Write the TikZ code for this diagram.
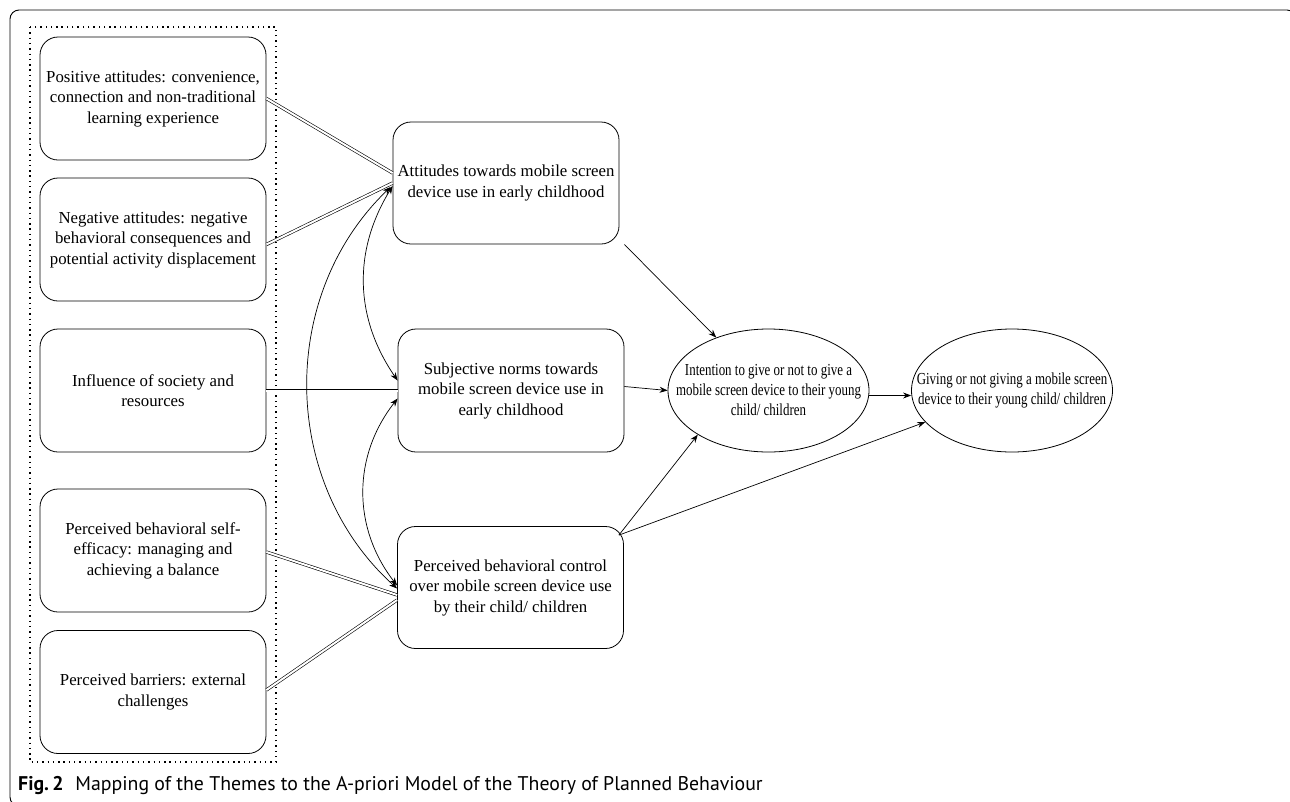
\documentclass[tikz,border=0pt]{standalone}
\usepackage{fontspec}
\setmainfont{Liberation Serif}
\newfontfamily\capfont{PT Sans}
\newfontfamily\condserif[FakeStretch=0.77]{Liberation Serif}
\usetikzlibrary{arrows.meta,shapes.geometric}
\begin{document}
\begin{tikzpicture}[x=1pt,y=-1pt,
  every node/.style={font=\fontsize{16.8}{20.5}\selectfont, align=center},
  themebox/.style={draw, rounded corners=18pt, minimum width=226pt, minimum height=123pt, inner sep=0pt, line width=0.8pt},
  constbox/.style={draw, rounded corners=18pt, minimum width=226pt, minimum height=122pt, inner sep=0pt, line width=0.8pt},
  oval/.style={draw, ellipse, minimum width=201pt, minimum height=123pt, inner sep=0pt, line width=0.8pt},
  ovaltext/.style={inner sep=0pt, font=\condserif\fontsize{16.8}{20}\selectfont},
  dbl/.style={double, double distance=2pt, line width=0.6pt},
  arr/.style={-{Stealth[length=8pt,width=6pt]}, line width=0.7pt},
  biarr/.style={{Stealth[length=8pt,width=6pt]}-{Stealth[length=8pt,width=6pt]}, line width=0.7pt},
]
\useasboundingbox (0,0) rectangle (1290,801);
\begin{scope}
\clip (0,0) rectangle (1290,801);
\draw[line width=0.9pt, rounded corners=9pt] (10,10) rectangle (1296,806);
\end{scope}
\draw[line width=1.2pt, dash pattern=on 1.4pt off 3.9pt] (30,27) rectangle (276,762);

% theme boxes
\node[themebox] (b1) at (153,98.5) {Positive attitudes: convenience,\\connection and non-traditional\\learning experience};
\node[themebox] (b2) at (153,239.5) {Negative attitudes: negative\\behavioral consequences and\\potential activity displacement};
\node[themebox] (b3) at (153,390.5) {Influence of society and\\resources};
\node[themebox] (b4) at (153,550.5) {Perceived behavioral self-\\efficacy: managing and\\achieving a balance};
\node[themebox] (b5) at (153,692) {Perceived barriers: external\\challenges};

% constructs
\node[constbox] (att) at (506,183) {Attitudes towards mobile screen\\device use in early childhood};
\node[themebox] (sub) at (511,390.5) {Subjective norms towards\\mobile screen device use in\\early childhood};
\node[constbox] (pbc) at (510.5,587.5) {Perceived behavioral control\\over mobile screen device use\\by their child/ children};

\node[oval] (int) at (768.5,390.5) {};
\node[ovaltext] (intt) at (int) {Intention to give or not to give a\\mobile screen device to their young\\child/ children};
\node[oval] (giv) at (1012,390.5) {};
\node[ovaltext] (givt) at (giv) {Giving or not giving a mobile screen\\device to their young child/ children};

% double connectors
\draw[dbl] (b1.east) -- ([yshift=10pt]att.west);
\draw[dbl] ([yshift=-5pt]b2.east) -- (att.west);
\draw[dbl] (b3.east) -- (sub.west);
\draw[dbl] ([yshift=-1.5pt]b4.east) -- ([yshift=-7.5pt]pbc.west);
\draw[dbl] ([yshift=2pt]b5.east) -- ([yshift=-12.5pt]pbc.west);

% correlations
\draw[biarr] ([yshift=-3pt]att.west) to[bend right=33] ([yshift=10pt]sub.west);
\draw[biarr] ([xshift=-2pt,yshift=-4pt]att.west) to[bend right=47] ([yshift=-1pt]pbc.west);
\draw[biarr] ([yshift=-8pt]sub.west) to[bend right=38] ([yshift=2pt]pbc.west);

% paths
\draw[arr] ([xshift=5pt]att.south east) -- (int);
\draw[arr] ([yshift=4pt]sub.east) -- (int.west);
\draw[arr] ([yshift=-5pt]int.east) -- ([yshift=-5pt]giv.west);
\draw[arr] ([xshift=-5pt,yshift=-9pt]pbc.north east) -- (int.212);
\draw[arr] ([xshift=-5pt,yshift=-9pt]pbc.north east) -- (giv.200);

% caption
\node[anchor=base west, inner sep=0pt, font=\capfont\fontsize{19.8}{22}\selectfont] (cap) at (18,790) {\textbf{Fig.\,2}\hspace{0.6em}Mapping of the Themes to the A-priori Model of the Theory of Planned Behaviour};
\end{tikzpicture}
\end{document}
